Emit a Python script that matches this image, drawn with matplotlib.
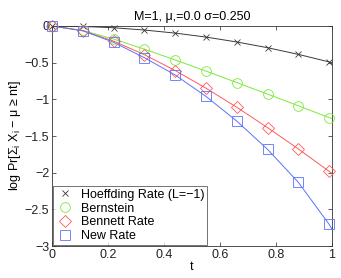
import matplotlib
matplotlib.use("Agg")
import matplotlib.pyplot as plt

plt.rcParams["font.family"] = ["Liberation Sans", "DejaVu Sans"]
plt.rcParams["mathtext.fontset"] = "custom"
plt.rcParams["mathtext.rm"] = "Liberation Sans"
plt.rcParams["mathtext.it"] = "Liberation Sans"

# t grid: markers at 0, 0.11, ..., 0.99; lines run on to t = 1
t = [0.0, 0.11, 0.22, 0.33, 0.44, 0.55, 0.66, 0.77, 0.88, 0.99, 1.0]
hoeffding = [0.0, -0.006, -0.024, -0.055, -0.097, -0.151, -0.218, -0.296, -0.387, -0.490, -0.500]
bernstein = [0.0, -0.061, -0.178, -0.316, -0.463, -0.615, -0.771, -0.929, -1.088, -1.249, -1.263]
bennett = [0.0, -0.065, -0.206, -0.391, -0.607, -0.848, -1.108, -1.386, -1.677, -1.982, -2.010]
new_rate = [0.0, -0.065, -0.222, -0.432, -0.668, -0.960, -1.296, -1.682, -2.132, -2.705, -2.770]

labels = ["Hoeffding Rate (L=\u22121)", "Bernstein", "Bennett Rate", "New Rate"]
colors = ["#3a3a3a", "#7ee83c", "#ff5a5a", "#5a72ff"]
markers = ["x", "o", "D", "s"]
sizes = [5, 7, 6, 6.5]

fig = plt.figure(figsize=(3.41, 2.78), dpi=100)
ax = fig.add_axes([0.1525, 0.115, 0.821, 0.7915])

for label, vals, col, mk, ms in zip(labels, [hoeffding, bernstein, bennett, new_rate],
                                    colors, markers, sizes):
    ax.plot(t, vals, color=col, linewidth=0.7)
    ax.plot(t[:10], vals[:10], linestyle="none", marker=mk, markersize=ms,
            markerfacecolor="none", markeredgecolor=col, markeredgewidth=0.6,
            label=label, clip_on=False, zorder=3)

ax.set_xlim(0, 1)
ax.set_ylim(-3, 0)
ax.set_xticks([0, 0.2, 0.4, 0.6, 0.8, 1])
ax.set_xticklabels(["0", "0.2", "0.4", "0.6", "0.8", "1"])
ax.set_yticks([-3, -2.5, -2, -1.5, -1, -0.5, 0])
ax.set_yticklabels(["\u22123", "\u22122.5", "\u22122", "\u22121.5", "\u22121", "\u22120.5", "0"])
ax.tick_params(direction="in", length=3, width=0.5, top=True, right=True,
               labelsize=9, colors="#222222", pad=2)
for sp in ax.spines.values():
    sp.set_linewidth(0.6)
    sp.set_color("#333333")

ax.set_xlabel("t", fontsize=9, labelpad=0)
ax.set_ylabel("log Pr[$\\Sigma_{\\mathrm{i}}$ X$_{\\mathrm{i}}$ \u2212 \u03bc \u2265 nt]",
              fontsize=9, labelpad=1)
ax.set_title("M=1, \u03bc,=0.0 \u03c3=0.250", fontsize=9, pad=4)

leg = ax.legend(loc="lower left", fontsize=9, borderaxespad=0.05, frameon=True,
                fancybox=False, edgecolor="#333333", handlelength=1.5,
                handletextpad=0.5, borderpad=0.25, labelspacing=0.15)
leg.get_frame().set_linewidth(0.6)

fig.savefig("out.png", dpi=100)
